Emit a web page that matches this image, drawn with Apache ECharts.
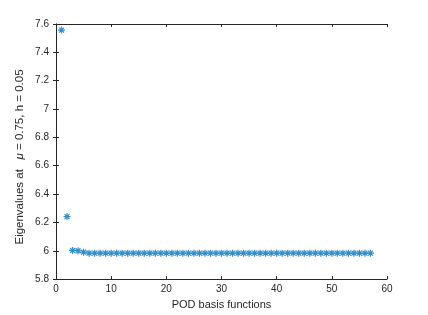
<!DOCTYPE html>
<html>
<head>
<meta charset="utf-8">
<script src="https://cdn.jsdelivr.net/npm/echarts@6/dist/echarts.min.js"></script>
<style>html,body{margin:0;padding:0;background:#fff}#c{width:428px;height:315px}</style>
</head>
<body>
<div id="c"></div>
<script>
const indices = [];
for (let i = 1; i <= 57; i++) indices.push(i);
const eigenvalues = [7.557, 6.241, 6.002, 6.0, 5.99,
  5.983, 5.983, 5.983, 5.983, 5.983, 5.983, 5.983, 5.983, 5.983, 5.983,
  5.983, 5.983, 5.983, 5.983, 5.983, 5.983, 5.983, 5.983, 5.983, 5.983,
  5.983, 5.983, 5.983, 5.983, 5.983, 5.983, 5.983, 5.983, 5.983, 5.983,
  5.983, 5.983, 5.983, 5.983, 5.983, 5.983, 5.983, 5.983, 5.983, 5.983,
  5.983, 5.983, 5.983, 5.983, 5.983, 5.983, 5.983, 5.983, 5.983, 5.983,
  5.983, 5.983];
const xTicks = [0, 10, 20, 30, 40, 50, 60];
const yTicks = [5.8, 6, 6.2, 6.4, 6.6, 6.8, 7, 7.2, 7.4, 7.6];
const xTitle = 'POD basis functions';

const data = indices.map((x, i) => [x, eigenvalues[i]]);
const axisColor = '#262626';
const font = 'Liberation Sans, Arial, Helvetica, sans-serif';
const star = 'path://M0,-10 L0,10 M-10,0 L10,0 M-7.07,-7.07 L7.07,7.07 M-7.07,7.07 L7.07,-7.07';

const chart = echarts.init(document.getElementById('c'), null, {renderer: 'canvas'});
const baseX = {
  type: 'value', min: xTicks[0], max: xTicks[xTicks.length - 1], interval: 10,
  axisLine: {show: true, lineStyle: {color: axisColor, width: 1}},
  axisTick: {show: true, inside: true, length: 3, lineStyle: {color: axisColor}},
  splitLine: {show: false}
};
const baseY = {
  type: 'value', min: yTicks[0], max: yTicks[yTicks.length - 1], interval: 0.2,
  axisLine: {show: true, lineStyle: {color: axisColor, width: 1}},
  axisTick: {show: true, inside: true, length: 3, lineStyle: {color: axisColor}},
  splitLine: {show: false}
};
chart.setOption({
  backgroundColor: '#fff',
  animation: false,
  grid: {left: 56, right: 41, top: 24, bottom: 35},
  xAxis: [
    Object.assign({}, baseX, {
      position: 'bottom',
      axisLabel: {color: axisColor, fontFamily: font, fontSize: 10, margin: 5},
      name: xTitle, nameLocation: 'middle', nameGap: 19,
      nameTextStyle: {color: axisColor, fontFamily: font, fontSize: 11}
    }),
    Object.assign({}, baseX, {position: 'top', axisLabel: {show: false}})
  ],
  yAxis: [
    Object.assign({}, baseY, {
      position: 'left',
      axisLabel: {color: axisColor, fontFamily: font, fontSize: 10, margin: 7,
        formatter: v => String(Math.round(v * 10) / 10)}
    }),
    Object.assign({}, baseY, {position: 'right', axisLabel: {show: false}})
  ],
  graphic: [{
    type: 'text',
    x: 20, y: 157,
    rotation: Math.PI / 2,
    style: {
      text: '{a|Eigenvalues at   }{i|μ}{a| = 0.75, h = 0.05}',
      align: 'center', verticalAlign: 'middle',
      rich: {
        a: {fill: axisColor, fontFamily: font, fontSize: 11.5},
        i: {fill: axisColor, fontFamily: font, fontSize: 11.5, fontStyle: 'italic'}
      }
    }
  }],
  series: [{
    type: 'scatter',
    xAxisIndex: 0, yAxisIndex: 0,
    data: data,
    symbol: star,
    symbolSize: 7,
    itemStyle: {color: 'rgba(0,0,0,0)', borderColor: '#0072BD', borderWidth: 1.2}
  }]
});
</script>
</body>
</html>
